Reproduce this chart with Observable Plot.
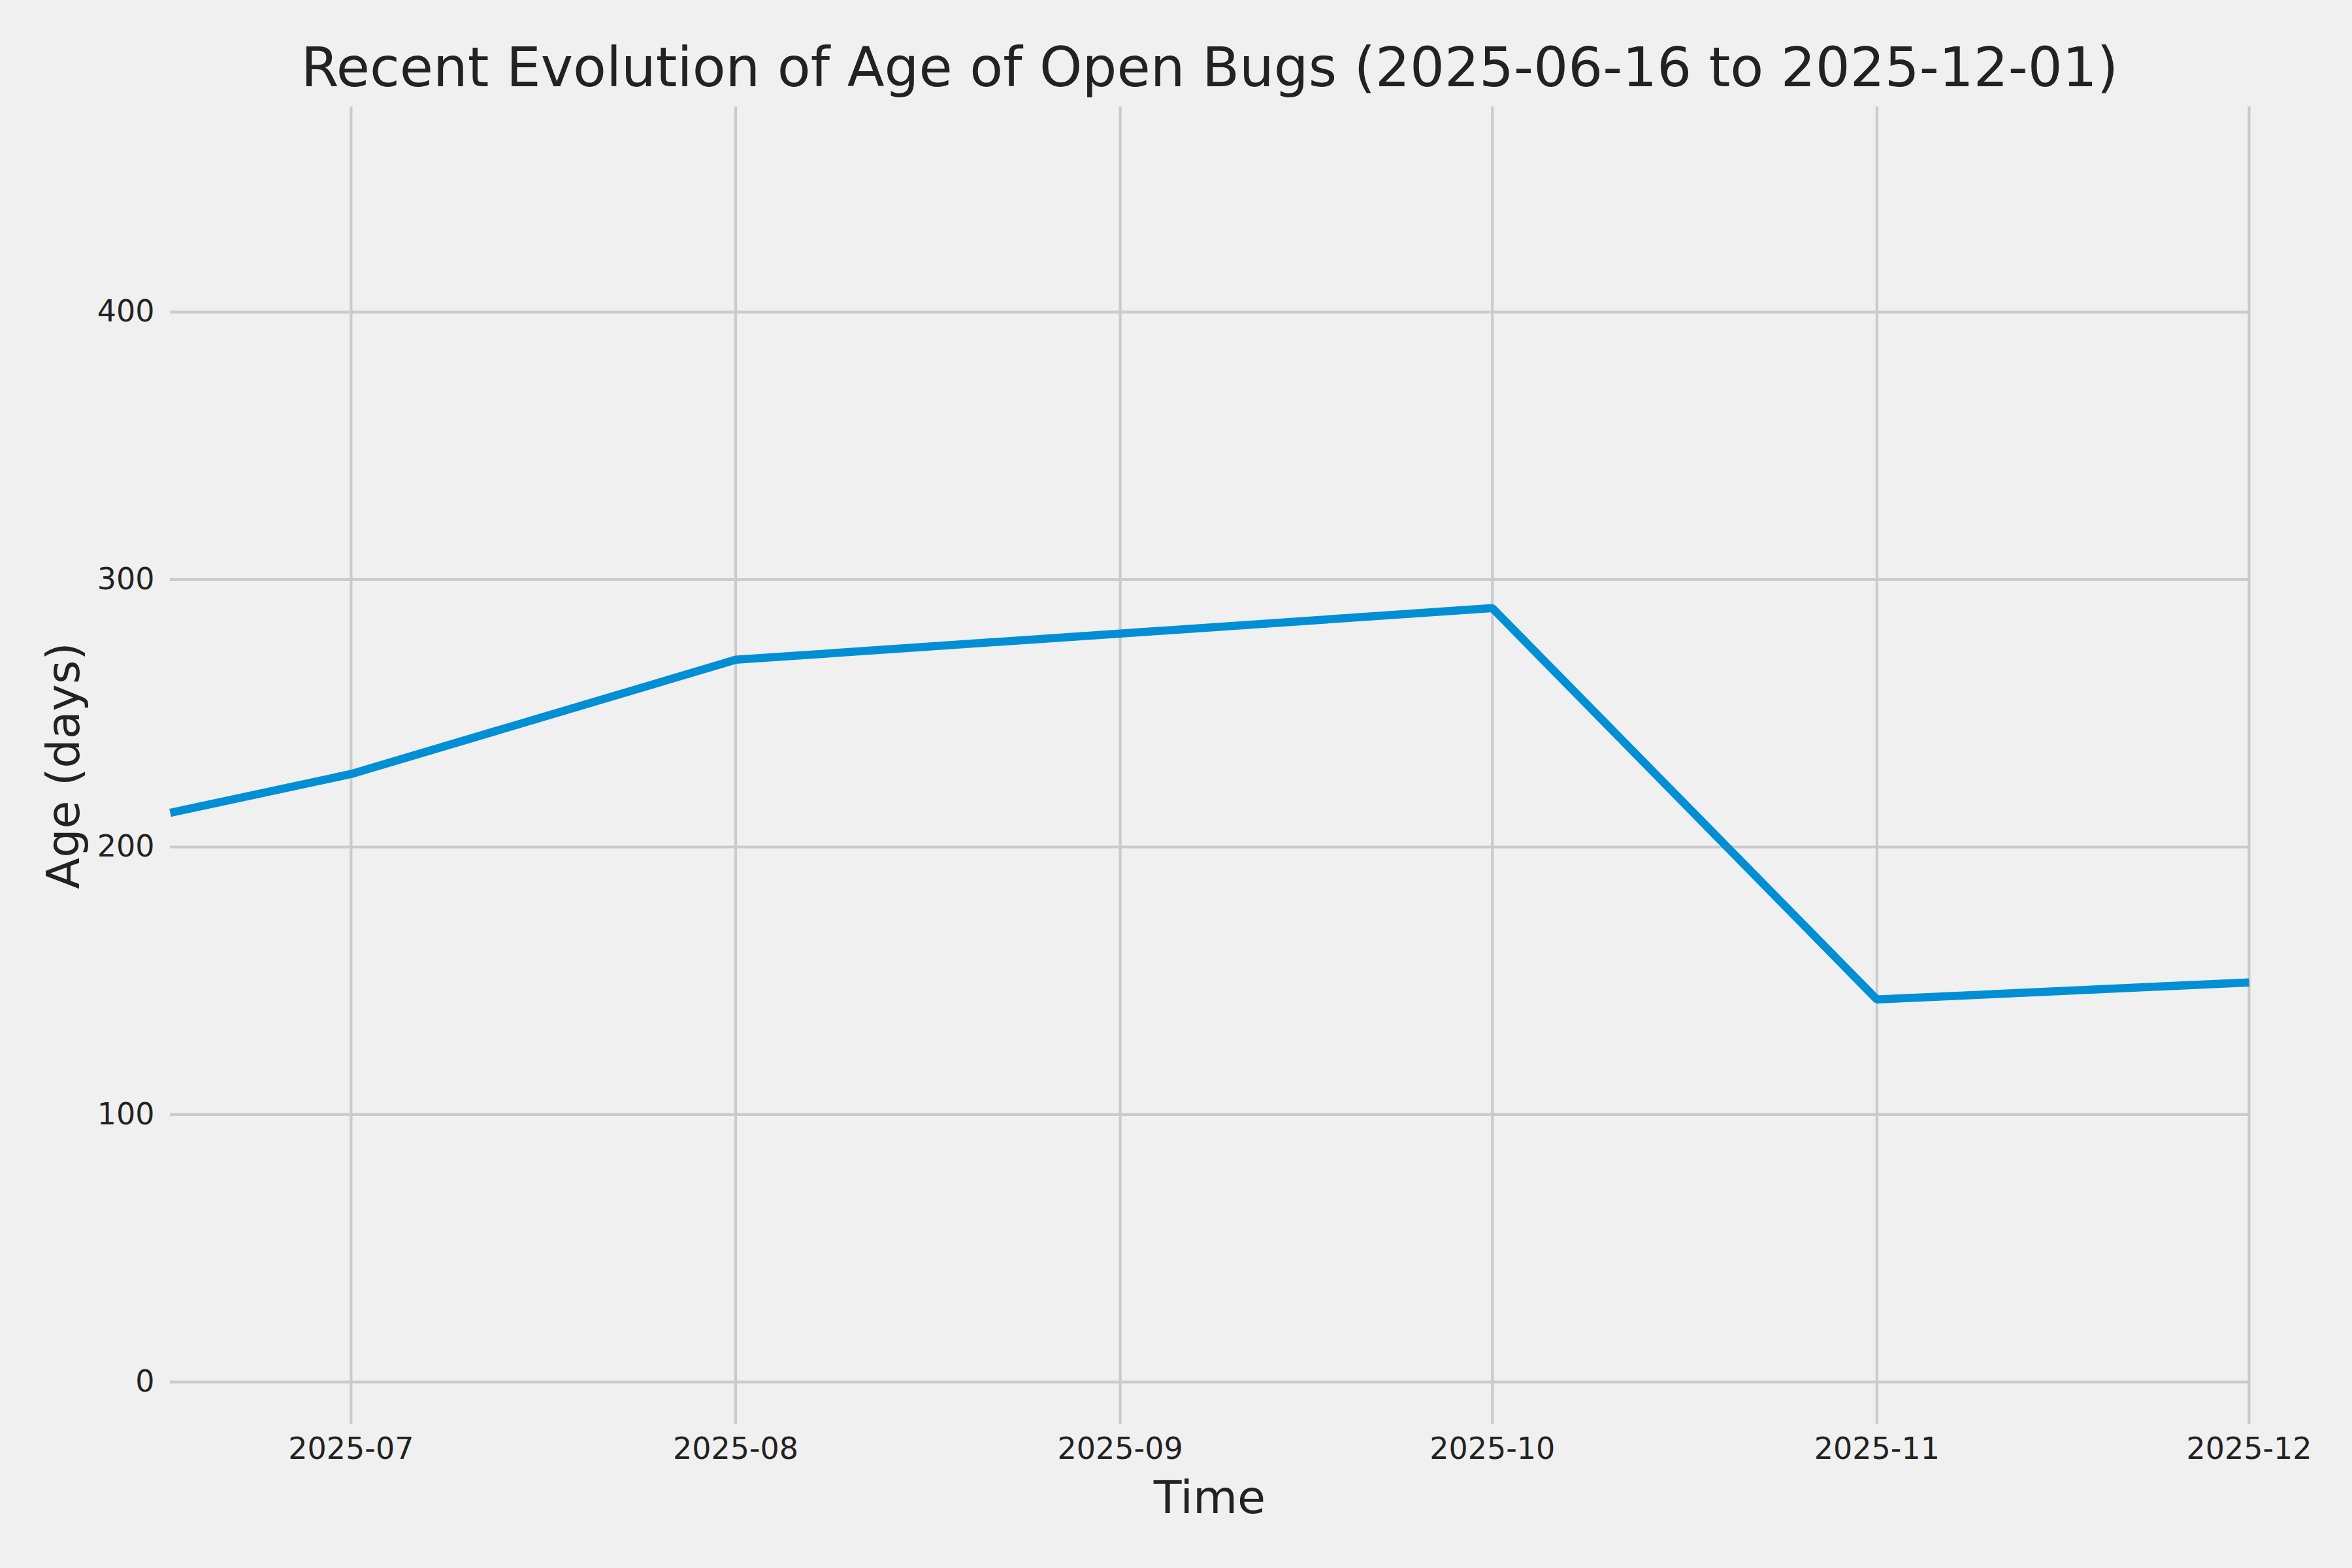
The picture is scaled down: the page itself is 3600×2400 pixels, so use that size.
<!DOCTYPE html>
<html>
<head>
<meta charset="utf-8">
<script src="https://cdn.jsdelivr.net/npm/d3@7"></script>
<script src="https://cdn.jsdelivr.net/npm/@observablehq/plot@0.6"></script>
<style>
html, body { margin: 0; padding: 0; background: #f0f0f0; }
svg { display: block; }
</style>
</head>
<body>
<div id="chart"></div>
<script>
// ---- data ----
const dates = ["2025-06-16T10:00", "2025-07-01T00:00", "2025-08-01T00:00", "2025-09-01T00:00", "2025-10-01T00:00", "2025-11-01T00:00", "2025-12-01T00:00"];
const ages = [212.8, 227.3, 270.0, 279.8, 289.3, 143.0, 149.4];
const xTickDates = ["2025-07-01T00:00", "2025-08-01T00:00", "2025-09-01T00:00", "2025-10-01T00:00", "2025-11-01T00:00", "2025-12-01T00:00"];
const yTicks = [0, 100, 200, 300, 400];
const yDomain = [-15.9, 476.7];
const titleText = "Recent Evolution of Age of Open Bugs (2025-06-16 to 2025-12-01)";
const xLabel = "Time";
const yLabel = "Age (days)";

const parse = s => new Date(s + ":00Z");
const data = dates.map((d, i) => ({date: parse(d), age: ages[i]}));
const xTicks = xTickDates.map(parse);

const textColor = "#222222";
const gridColor = "#cbcbcb";

const chart = Plot.plot({
  width: 3600,
  height: 2400,
  marginLeft: 260,
  marginRight: 158,
  marginTop: 163,
  marginBottom: 220,
  style: {background: "#f0f0f0", fontFamily: "DejaVu Sans", color: textColor, fontSize: "46px"},
  x: {type: "utc", domain: [data[0].date, data[data.length - 1].date]},
  y: {domain: yDomain},
  marks: [
    Plot.gridY(yTicks, {stroke: gridColor, strokeOpacity: 1, strokeWidth: 4.2}),
    Plot.gridX(xTicks, {stroke: gridColor, strokeOpacity: 1, strokeWidth: 4.2}),
    Plot.axisX({ticks: xTicks, tickSize: 0, tickPadding: 20, tickFormat: d3.utcFormat("%Y-%m"), fontSize: 46, label: null, fill: textColor}),
    Plot.axisY({ticks: yTicks, tickSize: 0, tickPadding: 24, fontSize: 46, label: null, fill: textColor}),
    Plot.line(data, {x: "date", y: "age", stroke: "#008fd5", strokeWidth: 12.5, strokeLinejoin: "miter", strokeLinecap: "butt"}),
    Plot.text([titleText], {text: d => d, frameAnchor: "top", textAnchor: "middle", dy: -32, lineAnchor: "bottom", fontSize: 83.3, fill: textColor}),
    Plot.text([xLabel], {text: d => d, frameAnchor: "bottom", textAnchor: "middle", dy: 135, lineAnchor: "bottom", fontSize: 70, fill: textColor}),
    Plot.text([yLabel], {text: d => d, frameAnchor: "left", textAnchor: "middle", dx: -140, rotate: -90, lineAnchor: "bottom", fontSize: 70, fill: textColor})
  ]
});
document.getElementById("chart").appendChild(chart);
</script>
</body>
</html>
